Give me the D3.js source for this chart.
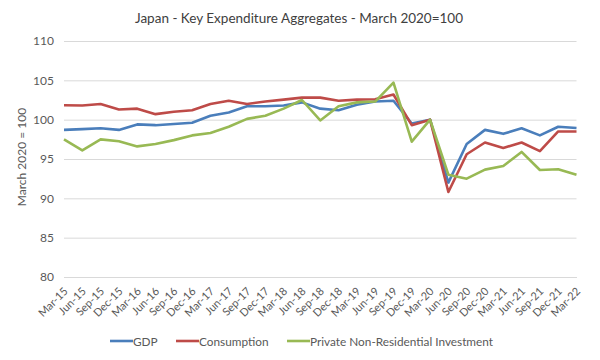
<!DOCTYPE html>
<html><head><meta charset="utf-8">
<script src="https://cdn.jsdelivr.net/npm/d3@7"></script>
<style>body{margin:0;background:#fff}svg{display:block;font-family:Lato,sans-serif}</style>
</head><body><svg id="c" width="600" height="360"></svg>
<script>
const categories = ["Mar-15","Jun-15","Sep-15","Dec-15","Mar-16","Jun-16","Sep-16","Dec-16","Mar-17","Jun-17","Sep-17","Dec-17","Mar-18","Jun-18","Sep-18","Dec-18","Mar-19","Jun-19","Sep-19","Dec-19","Mar-20","Jun-20","Sep-20","Dec-20","Mar-21","Jun-21","Sep-21","Dec-21","Mar-22"];
const gdp = [98.7,98.8,98.9,98.7,99.4,99.3,99.45,99.6,100.5,100.9,101.7,101.7,101.8,102.2,101.4,101.2,101.9,102.3,102.4,99.5,100.0,92.0,96.9,98.7,98.2,98.9,98.0,99.1,98.95];
const consumption = [101.83,101.8,102.0,101.3,101.4,100.7,101.0,101.2,102.0,102.4,102.0,102.3,102.55,102.8,102.8,102.4,102.55,102.6,103.2,99.3,100.0,90.8,95.6,97.1,96.4,97.1,96.0,98.5,98.5];
const investment = [97.5,96.1,97.5,97.25,96.6,96.9,97.4,98.0,98.3,99.1,100.1,100.5,101.4,102.5,99.9,101.7,102.2,102.3,104.7,97.2,100.0,93.0,92.5,93.65,94.1,95.9,93.6,93.7,93.0];
const yTicks = [80,85,90,95,100,105,110];
const seriesNames = ["GDP","Consumption","Private Non-Residential Investment"];
const colors = ["#4a7ebb","#be4b48","#98b954"];

const svg = d3.select("#c");
const x = d3.scalePoint().domain(categories).range([64, 576.5]);
const y = d3.scaleLinear().domain([80,110]).range([277, 41]);

svg.append("text").attr("x",299).attr("y",23).attr("text-anchor","middle")
  .attr("font-size",13.5).attr("fill","#404040").text("Japan - Key Expenditure Aggregates - March 2020=100");

const ya = svg.append("g").attr("transform","translate(64,0)")
  .call(d3.axisLeft(y).tickValues(yTicks).tickSize(-512.5).tickPadding(10));
ya.select(".domain").remove();
ya.selectAll(".tick line").attr("stroke","#d9d9d9");
ya.selectAll(".tick text").attr("font-size",12).attr("fill","#595959").attr("font-family","Lato");

const xa = svg.append("g").attr("transform","translate(0,277)")
  .call(d3.axisBottom(x).tickSize(0).tickPadding(0));
xa.select(".domain").attr("stroke","#d9d9d9");
xa.selectAll(".tick text").attr("font-size",11).attr("fill","#595959").attr("font-family","Lato")
  .attr("text-anchor","end").attr("dy",0)
  .attr("transform","translate(4,15) rotate(-45)");

svg.append("text").attr("transform","translate(26,157) rotate(-90)").attr("text-anchor","middle")
  .attr("font-size",12).attr("fill","#595959").text("March 2020 = 100");

const line = d3.line().x((d,i)=>x(categories[i])).y(d=>y(d));
[gdp,consumption,investment].forEach((s,k)=>{
  svg.append("path").datum(s).attr("d",line).attr("fill","none")
    .attr("stroke",colors[k]).attr("stroke-width",2.6).attr("stroke-linejoin","round");
});

const lx = [110,176,287];
seriesNames.forEach((n,k)=>{
  const g = svg.append("g").attr("transform",`translate(${lx[k]},341)`);
  g.append("line").attr("x1",0).attr("x2",23).attr("stroke",colors[k]).attr("stroke-width",2.6);
  g.append("text").attr("x",23).attr("y",4.5).attr("font-size",11.8).attr("fill","#595959").text(n);
});
</script></body></html>
